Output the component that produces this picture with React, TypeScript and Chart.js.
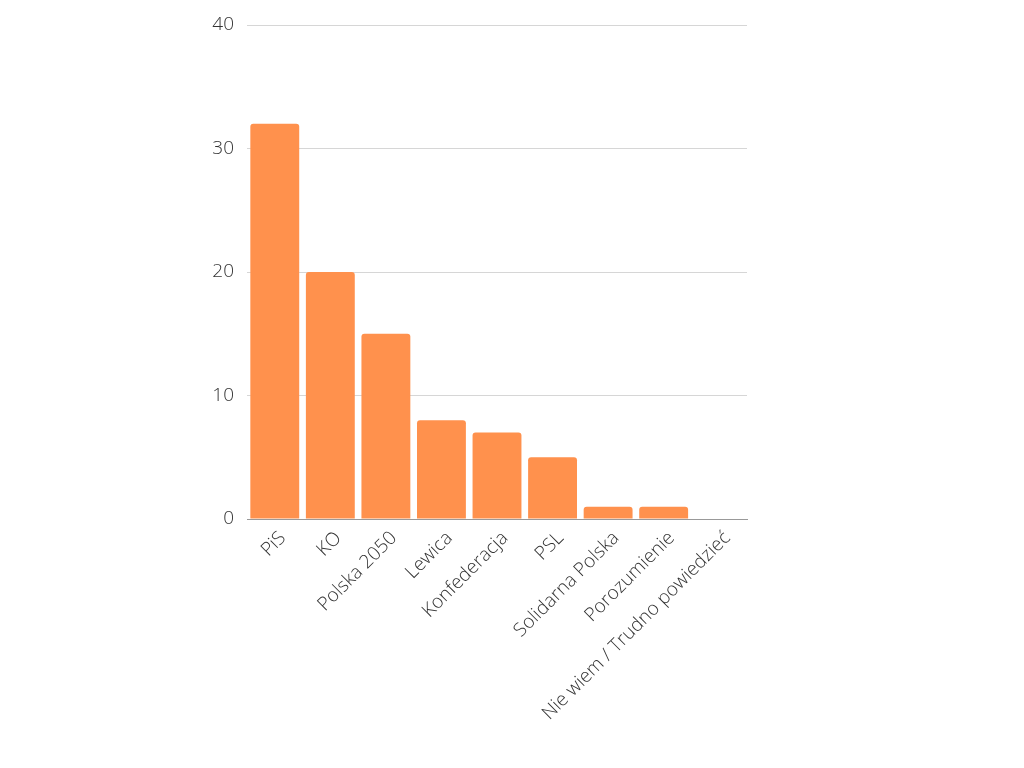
import React, { useEffect, useRef } from 'react';
import { Chart, registerables } from 'chart.js';

Chart.register(...registerables);

const parties = [
  'PiS',
  'KO',
  'Polska 2050',
  'Lewica',
  'Konfederacja',
  'PSL',
  'Solidarna Polska',
  'Porozumienie',
  'Nie wiem / Trudno powiedzieć',
];
const support = [32, 20, 15, 8, 7, 5, 1, 1, 0];
const yTicks = [0, 10, 20, 30, 40];

const font = { family: '"Open Sans", sans-serif', size: 19, weight: 300 as any };

const App: React.FC = () => {
  const canvasRef = useRef<HTMLCanvasElement>(null);
  const chartRef = useRef<Chart | null>(null);

  useEffect(() => {
    if (!canvasRef.current) return;
    if (chartRef.current) chartRef.current.destroy();
    const ctx = canvasRef.current.getContext('2d');
    if (!ctx) return;

    chartRef.current = new Chart(ctx, {
      type: 'bar',
      data: {
        labels: parties,
        datasets: [
          {
            label: 'Poparcie',
            data: support,
            backgroundColor: '#ff914d',
            borderRadius: 3,
            borderSkipped: 'bottom',
            categoryPercentage: 1,
            barPercentage: 0.88,
          },
        ],
      },
      options: {
        animation: false,
        responsive: true,
        maintainAspectRatio: false,
        layout: { padding: { left: 0, right: 277, top: 25, bottom: 0 } },
        plugins: {
          legend: { display: false },
          tooltip: { enabled: false },
        },
        scales: {
          x: {
            afterFit: (scale: any) => {
              scale.height = 249;
            },
            grid: { display: false, drawTicks: false },
            border: { color: '#999', width: 1 },
            ticks: {
              color: '#333',
              font,
              maxRotation: 45,
              minRotation: 45,
              padding: 8,
              labelOffset: 8,
              autoSkip: false,
            },
          },
          y: {
            min: 0,
            max: 40,
            afterFit: (scale: any) => {
              scale.width = 247;
            },
            afterBuildTicks: (scale: any) => {
              scale.ticks = yTicks.map(v => ({ value: v }));
            },
            grid: { color: '#d6d6d6', drawTicks: false },
            border: { display: false },
            ticks: {
              color: '#333',
              font,
              padding: 13,
            },
          },
        },
      },
    });

    return () => {
      if (chartRef.current) {
        chartRef.current.destroy();
        chartRef.current = null;
      }
    };
  }, []);

  return (
    <div style={{ position: 'fixed', left: 0, top: 0, width: 1024, height: 768, background: '#fff' }}>
      <canvas ref={canvasRef}></canvas>
    </div>
  );
};

export default App;
